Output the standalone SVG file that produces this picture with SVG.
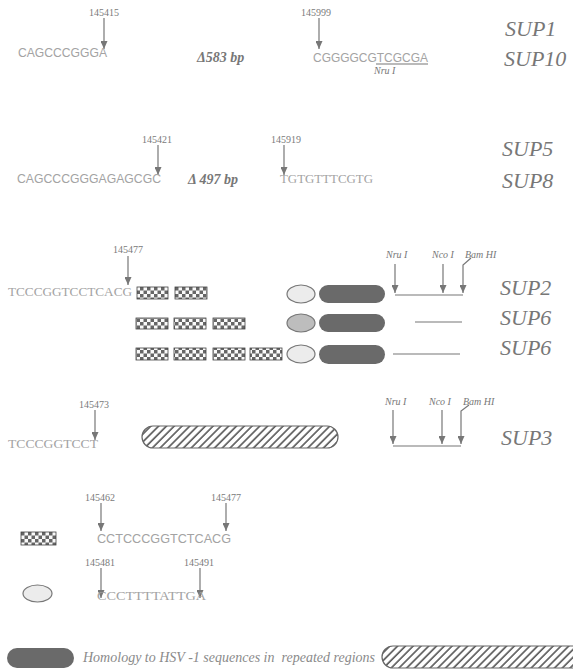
<svg xmlns="http://www.w3.org/2000/svg" width="573" height="670" viewBox="0 0 573 670">
<style>
.seq{font-family:"Liberation Sans",Arial,sans-serif;font-size:13px;fill:#a3a3a3}
.seqs{font-family:"Liberation Serif","Times New Roman",serif;font-size:13.5px;fill:#a3a3a3}
.num{font-family:"Liberation Serif","Times New Roman",serif;font-size:10px;fill:#7a7a7a}
.sup{font-family:"Liberation Serif","Times New Roman",serif;font-style:italic;font-size:22px;fill:#777}
.del{font-family:"Liberation Serif","Times New Roman",serif;font-style:italic;font-weight:bold;font-size:14px;fill:#777}
.enz{font-family:"Liberation Serif","Times New Roman",serif;font-style:italic;font-size:10px;fill:#777}
.leg{font-family:"Liberation Serif","Times New Roman",serif;font-style:italic;font-size:14px;fill:#8a8a8a;white-space:pre}
.arr{stroke:#777;stroke-width:1.2;fill:none;marker-end:url(#ah)}
.ln{stroke:#777;stroke-width:1.2;fill:none}
.chk{fill:url(#checker);stroke:#444;stroke-width:0.8}
.ell{fill:#ececec;stroke:#777;stroke-width:1.2}
.pill{fill:#6a6a6a}
.hat{fill:url(#hatch);stroke:#666;stroke-width:1.2}
</style>
<defs>
<marker id="ah" markerUnits="userSpaceOnUse" markerWidth="8" markerHeight="7" refX="8" refY="3.5" orient="auto">
<path d="M0,0 L8,3.5 L0,7 z" fill="#777"/>
</marker>
<pattern id="checker" patternUnits="userSpaceOnUse" width="7" height="7">
<rect width="7" height="7" fill="#fafafa"/>
<rect width="3.5" height="3.5" fill="#666"/>
<rect x="3.5" y="3.5" width="3.5" height="3.5" fill="#666"/>
</pattern>
<pattern id="hatch" patternUnits="userSpaceOnUse" width="5.5" height="5.5" patternTransform="rotate(45)">
<rect width="5.5" height="5.5" fill="#fff"/>
<line x1="1" y1="0" x2="1" y2="5.5" stroke="#555" stroke-width="1.6"/>
</pattern>
</defs>

<g id="connectors">
<line class="arr" x1="104" y1="18" x2="104" y2="49"/>
<line class="arr" x1="319" y1="18" x2="319" y2="49"/>
<line class="arr" x1="158" y1="145" x2="158" y2="175"/>
<line class="arr" x1="284" y1="145" x2="284" y2="175"/>
<line class="arr" x1="128" y1="256" x2="128" y2="285"/>
<line class="arr" x1="395" y1="264" x2="395" y2="293"/>
<line class="arr" x1="443" y1="264" x2="443" y2="293"/>
<polyline class="arr" points="471,258 463,265 463,293"/>
<line class="ln" x1="395" y1="295" x2="463" y2="295"/>
<line class="ln" x1="415" y1="322" x2="462" y2="322"/>
<line class="ln" x1="393" y1="354" x2="460" y2="354"/>
<line class="arr" x1="95" y1="410" x2="95" y2="440"/>
<line class="arr" x1="393" y1="410" x2="393" y2="444"/>
<line class="arr" x1="442" y1="410" x2="442" y2="444"/>
<polyline class="arr" points="469,405 461,411 461,444"/>
<line class="ln" x1="393" y1="446" x2="461" y2="446"/>
<line class="arr" x1="101" y1="503" x2="101" y2="531"/>
<line class="arr" x1="226" y1="503" x2="226" y2="531"/>
<line class="arr" x1="101" y1="568" x2="101" y2="598"/>
<line class="arr" x1="200" y1="568" x2="200" y2="598"/>
</g>

<g id="row1">
<text class="num" x="104" y="16" text-anchor="middle">145415</text>
<text class="seq" x="18" y="57" textLength="89" lengthAdjust="spacingAndGlyphs">CAGCCCGGGA</text>
<text class="del" x="197" y="62">Δ583 bp</text>
<text class="num" x="316" y="16" text-anchor="middle">145999</text>
<text class="seq" x="313" y="62" textLength="115" lengthAdjust="spacingAndGlyphs">CGGGGCGTCGCGA</text>
<line class="ln" x1="376" y1="64" x2="428" y2="64"/>
<text class="enz" x="374" y="74">Nru I</text>
<text class="sup" x="505" y="36">SUP1</text>
<text class="sup" x="504" y="66">SUP10</text>
</g>

<g id="row2">
<text class="num" x="157" y="143" text-anchor="middle">145421</text>
<text class="seq" x="17" y="183" textLength="144" lengthAdjust="spacingAndGlyphs">CAGCCCGGGAGAGCGC</text>
<text class="del" x="188" y="184">Δ 497 bp</text>
<text class="num" x="286" y="143" text-anchor="middle">145919</text>
<text class="seqs" x="280" y="183" textLength="93" lengthAdjust="spacingAndGlyphs">TGTGTTTCGTG</text>
<text class="sup" x="502" y="156">SUP5</text>
<text class="sup" x="502" y="188">SUP8</text>
</g>

<g id="sup2">
<text class="num" x="128" y="253" text-anchor="middle">145477</text>
<text class="seqs" x="8" y="296" textLength="124" lengthAdjust="spacingAndGlyphs">TCCCGGTCCTCACG</text>
<rect class="chk" x="137" y="287" width="31" height="12"/>
<rect class="chk" x="175" y="287" width="32" height="12"/>
<ellipse class="ell" cx="301" cy="294" rx="14" ry="9"/>
<rect class="pill" x="319" y="285" width="66" height="18" rx="9"/>
<text class="enz" x="386" y="258">Nru I</text>
<text class="enz" x="432" y="258">Nco I</text>
<text class="enz" x="465" y="258">Bam  HI</text>
<text class="sup" x="500" y="295">SUP2</text>
</g>

<g id="sup6a">
<rect class="chk" x="136" y="318" width="32" height="11"/>
<rect class="chk" x="174" y="318" width="32" height="11"/>
<rect class="chk" x="213" y="318" width="32" height="11"/>
<ellipse class="ell" cx="301" cy="323" rx="14" ry="9" style="fill:#bdbdbd"/>
<rect class="pill" x="319" y="314" width="66" height="18" rx="9"/>
<text class="sup" x="500" y="325">SUP6</text>
</g>

<g id="sup6b">
<rect class="chk" x="136" y="348" width="32" height="12"/>
<rect class="chk" x="174" y="348" width="32" height="12"/>
<rect class="chk" x="213" y="348" width="32" height="12"/>
<rect class="chk" x="250" y="348" width="32" height="12"/>
<ellipse class="ell" cx="301" cy="354" rx="14" ry="9"/>
<rect class="pill" x="319" y="345" width="66" height="19" rx="9.5"/>
<text class="sup" x="500" y="355">SUP6</text>
</g>

<g id="sup3">
<text class="num" x="94" y="408" text-anchor="middle">145473</text>
<text class="seqs" x="8" y="448" textLength="90" lengthAdjust="spacingAndGlyphs">TCCCGGTCCT</text>
<rect class="hat" x="142" y="426" width="196" height="22" rx="11"/>
<text class="enz" x="385" y="405">Nru I</text>
<text class="enz" x="429" y="405">Nco I</text>
<text class="enz" x="463" y="405">Bam  HI</text>
<text class="sup" x="501" y="445">SUP3</text>
</g>

<g id="checker-key">
<text class="num" x="100" y="501" text-anchor="middle">145462</text>
<text class="num" x="226" y="501" text-anchor="middle">145477</text>
<rect class="chk" x="21" y="532" width="35" height="13"/>
<text class="seq" x="97" y="543" textLength="134" lengthAdjust="spacingAndGlyphs">CCTCCCGGTCTCACG</text>
</g>

<g id="ellipse-key">
<text class="num" x="100" y="566" text-anchor="middle">145481</text>
<text class="num" x="199" y="566" text-anchor="middle">145491</text>
<ellipse class="ell" cx="37.5" cy="593.5" rx="14.5" ry="8.5"/>
<text class="seqs" x="97" y="600" textLength="109" lengthAdjust="spacingAndGlyphs">CCCTTTTATTGA</text>
</g>

<g id="legend">
<rect class="pill" x="7" y="648" width="67" height="20" rx="10"/>
<text class="leg" x="83" y="662" textLength="292" lengthAdjust="spacingAndGlyphs">Homology to HSV -1 sequences in  repeated regions</text>
<rect class="hat" x="382" y="646" width="210" height="22" rx="11"/>
</g>
</svg>
